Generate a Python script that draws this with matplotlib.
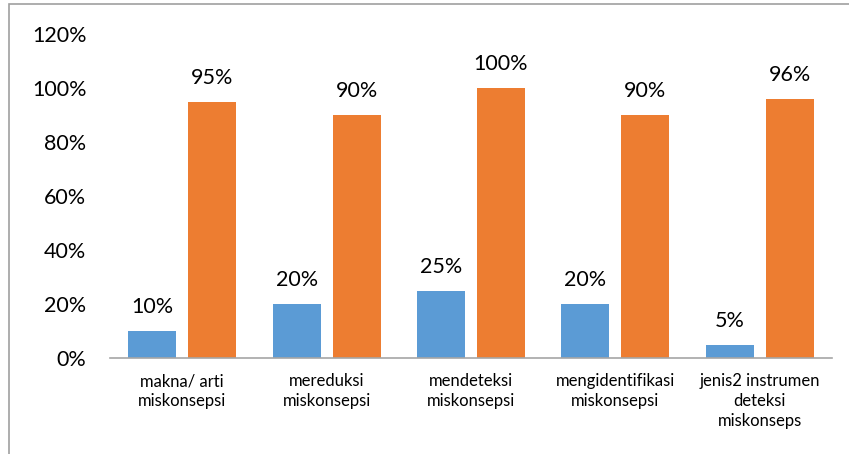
import matplotlib
matplotlib.use("Agg")
import matplotlib.pyplot as plt
from matplotlib.patches import Rectangle
import numpy as np

categories = ["makna/ arti\nmiskonsepsi", "mereduksi\nmiskonsepsi", "mendeteksi\nmiskonsepsi",
              "mengidentifikasi\nmiskonsepsi", "jenis2 instrumen\ndeteksi\nmiskonseps"]
series_blue = [10, 20, 25, 20, 5]
series_orange = [95, 90, 100, 90, 96]
yticks = [0, 20, 40, 60, 80, 100, 120]

plt.rcParams['font.family'] = ['Lato', 'DejaVu Sans']

fig = plt.figure(figsize=(8.49, 4.54), dpi=100)
ax = fig.add_axes([110/849, 1-358/454, (832-110)/849, (358-34)/454])

x = np.arange(len(categories))
w = 0.332
off = 0.208
b1 = ax.bar(x - off, series_blue, w, color="#5B9BD5")
b2 = ax.bar(x + off, series_orange, w, color="#ED7D31")
for bars, vals in ((b1, series_blue), (b2, series_orange)):
    for r, v in zip(bars, vals):
        ax.annotate(f"{v}%", (r.get_x() + r.get_width()/2, v), xytext=(0, 10),
                    textcoords="offset points", ha="center", va="bottom", fontsize=15.5)

ax.set_xlim(-0.5, len(categories) - 0.5)
ax.set_ylim(0, 120)
ax.set_yticks(yticks)
ax.set_yticklabels([f"{t}%" for t in yticks], fontsize=15.5)
ax.set_xticks(x)
ax.set_xticklabels(categories, fontsize=12, linespacing=1.3)
ax.tick_params(axis='both', length=0)
ax.tick_params(axis='y', pad=17)
ax.tick_params(axis='x', pad=11)
for s in ("top", "right", "left"):
    ax.spines[s].set_visible(False)
ax.spines["bottom"].set_color("#A6A6A6")
ax.spines["bottom"].set_linewidth(1.2)

fig.patches.append(Rectangle((9/849, -0.1), 1.2, 1.1 - 4/454, transform=fig.transFigure,
                             fill=False, edgecolor="#A0A0A0", linewidth=1.2))

fig.savefig("out.png", dpi=100)
